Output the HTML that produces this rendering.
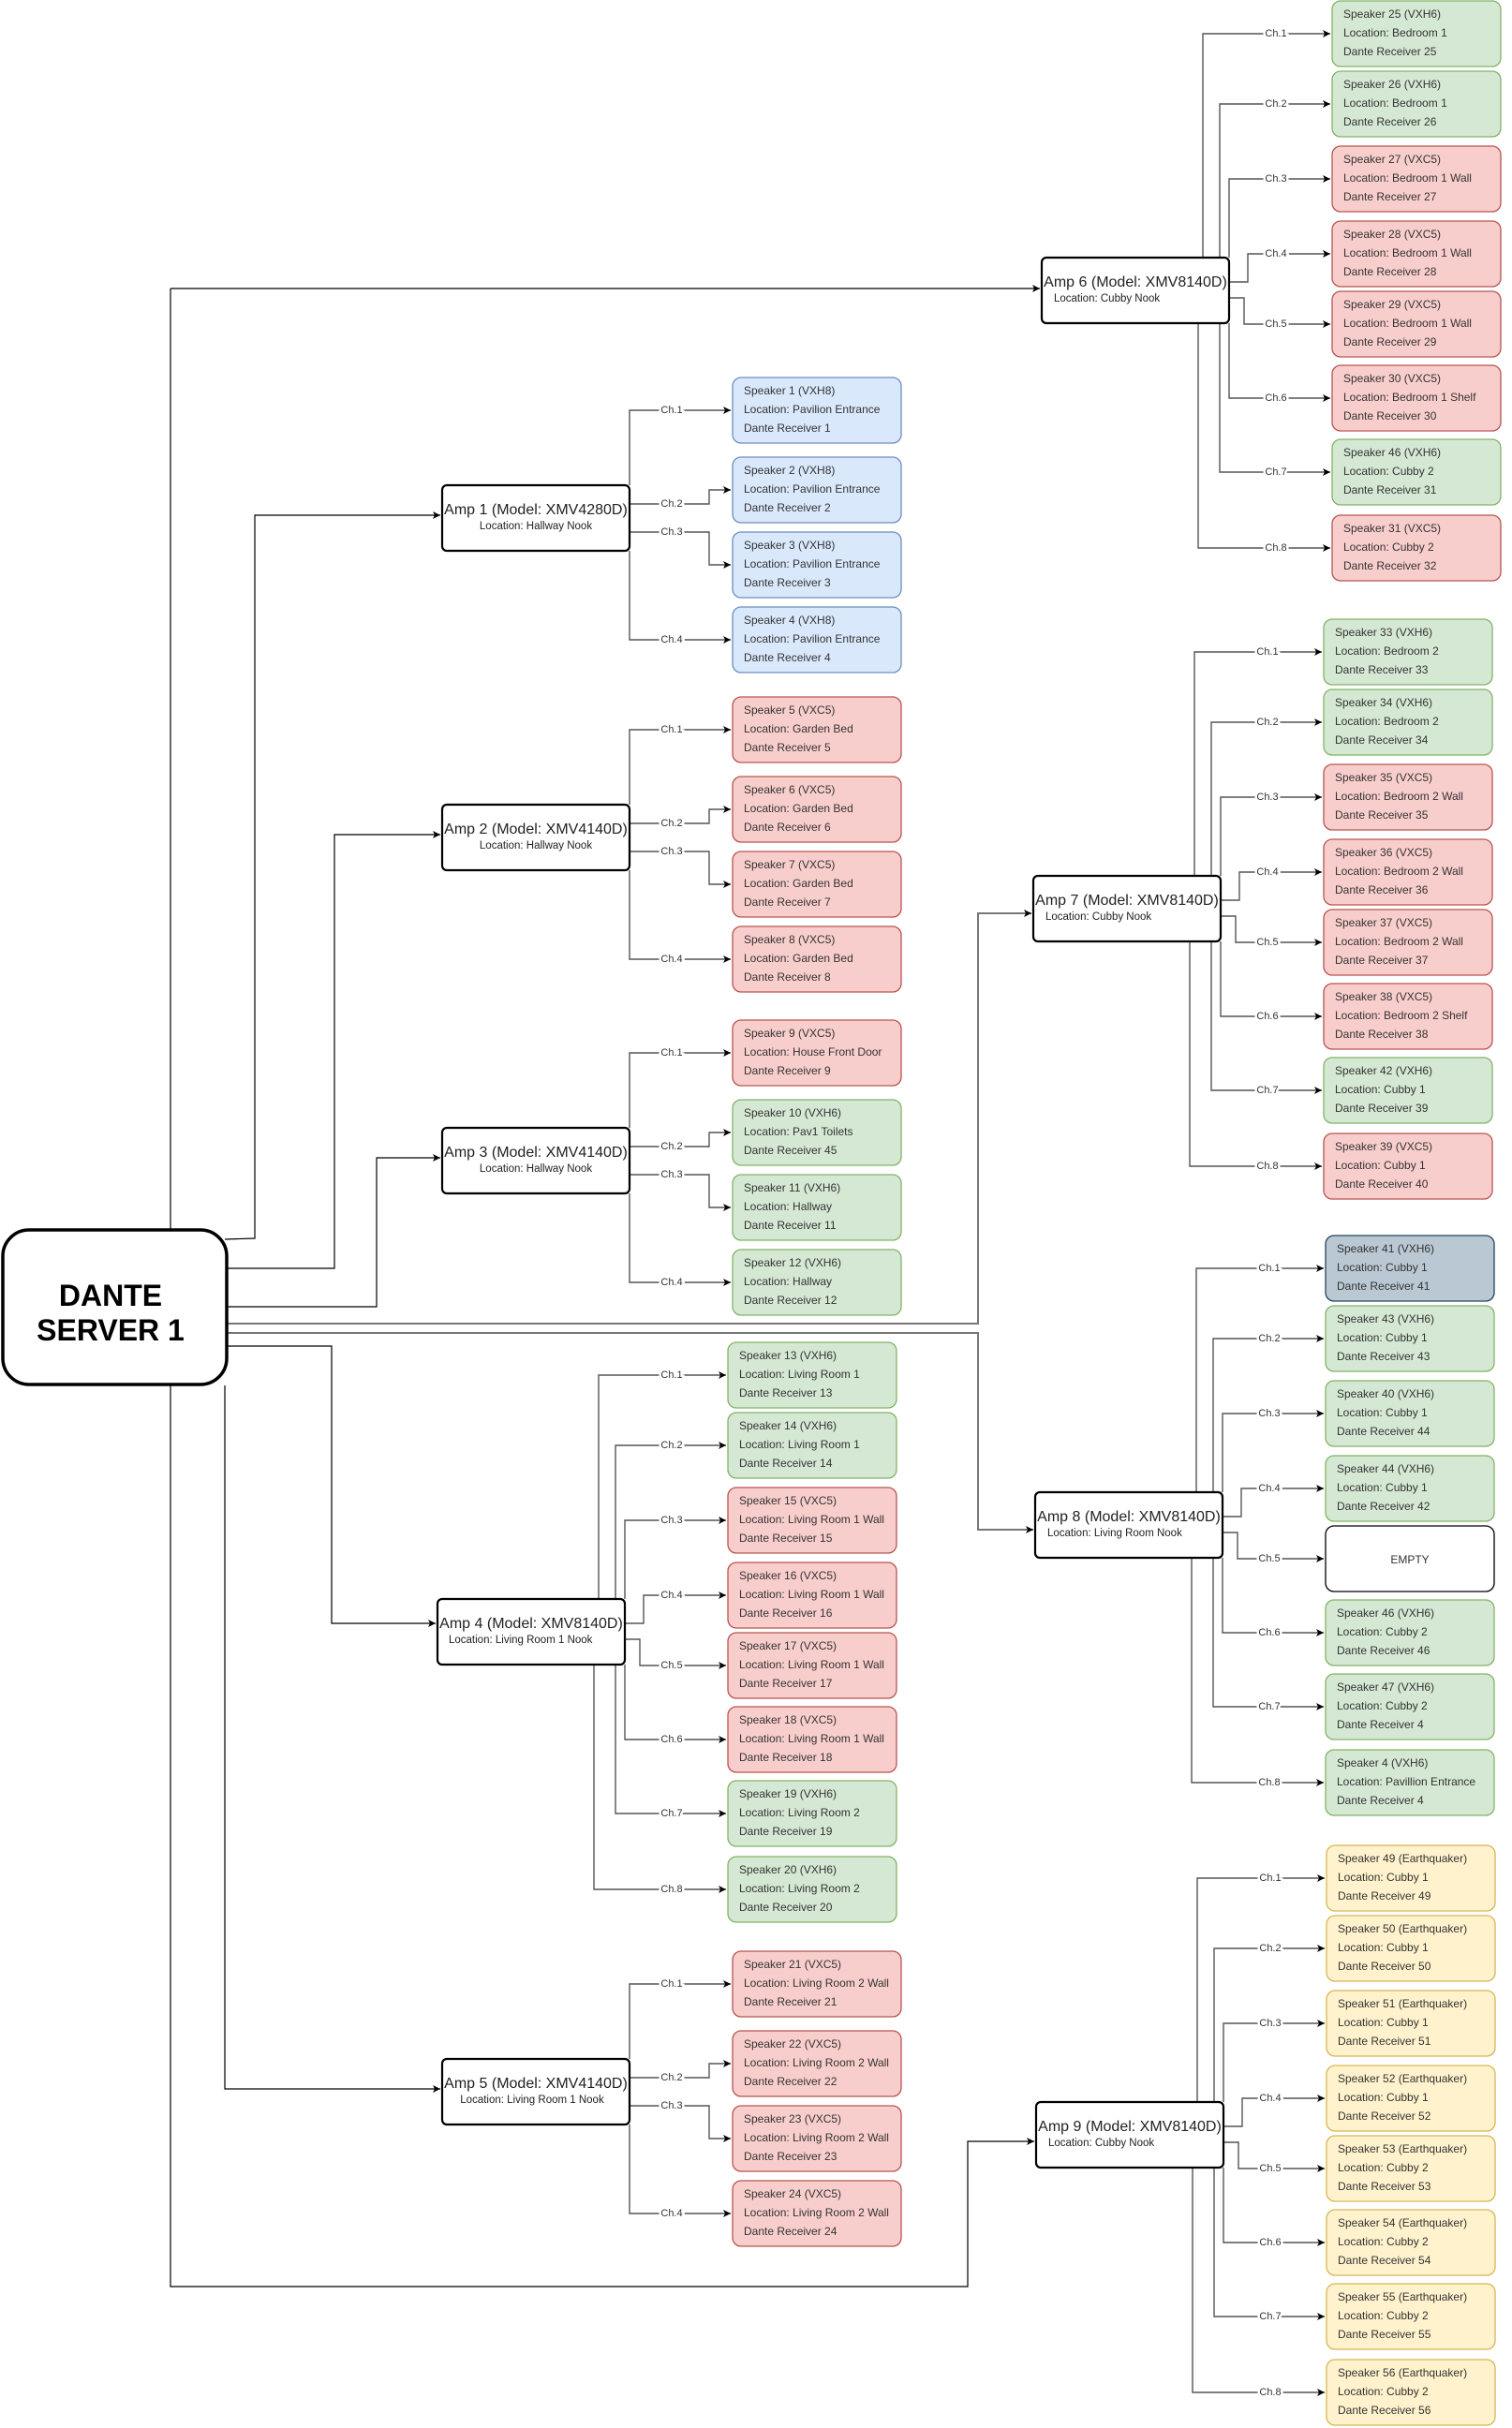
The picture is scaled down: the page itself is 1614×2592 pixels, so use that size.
<!DOCTYPE html>
<html><head><meta charset="utf-8"><style>
html,body{margin:0;padding:0;background:#fff;}
svg{display:block;font-family:"Liberation Sans",Arial,sans-serif;}
.s text{font-size:12px;fill:#333;}
.g rect{fill:#d5e8d4;stroke:#82b366;stroke-width:1.3;}
.r rect{fill:#f8cecc;stroke:#b85450;stroke-width:1.3;}
.b rect{fill:#dae8fc;stroke:#6c8ebf;stroke-width:1.3;}
.y rect{fill:#fff2cc;stroke:#d6b656;stroke-width:1.3;}
.k rect{fill:#bac8d3;stroke:#23445d;stroke-width:1.3;}
.w rect{fill:#fff;stroke:#000;stroke-width:1.3;}
.ch path{fill:none;stroke:#555;stroke-width:1.4;marker-end:url(#ar);}
.sv path{fill:none;stroke:#000;stroke-width:1.2;}
.lb text{font-size:11px;fill:#333;text-anchor:middle;stroke:#fff;stroke-width:5px;paint-order:stroke;dominant-baseline:central;}
.amp rect{fill:#fff;stroke:#000;stroke-width:2.2;}
.amp .t{font-size:16px;fill:#222;text-anchor:middle;}
.amp .l{font-size:11.5px;fill:#222;}
</style></head><body>
<svg width="1614" height="2592" viewBox="0 0 1614 2592" xmlns="http://www.w3.org/2000/svg">
<defs><marker id="ar" markerWidth="10" markerHeight="10" refX="8" refY="5" orient="auto" markerUnits="userSpaceOnUse"><path d="M0,1 L8,5 L0,9 L2,5 Z" fill="#000"/></marker></defs>

<!-- server connections -->
<g class="sv">
<path d="M182 308V2441H1033V2286H1104" style="marker-end:url(#ar)"/>
<path d="M182 308H1110" style="marker-end:url(#ar)"/>
<path d="M240 1323L272 1322V550H470" style="marker-end:url(#ar)"/>
<path d="M243 1354H357V891H470" style="marker-end:url(#ar)"/>
<path d="M243 1395H402V1236H470" style="marker-end:url(#ar)"/>
<path d="M243 1437H354V1733H465" style="marker-end:url(#ar)"/>
<path d="M240 1479V2230H470" style="marker-end:url(#ar)"/>
<path d="M243 1413H1044V975H1101" style="stroke:#777;stroke-width:2;marker-end:url(#ar)"/>
<path d="M243 1423H1044V1633H1103" style="stroke:#777;stroke-width:2;marker-end:url(#ar)"/>
</g>

<!-- server -->
<rect x="3" y="1313" width="239" height="165" rx="28" fill="#fff" stroke="#000" stroke-width="3.5"/>
<text x="118" y="1394" font-size="32" font-weight="bold" text-anchor="middle">DANTE</text>
<text x="118" y="1431" font-size="32" font-weight="bold" text-anchor="middle">SERVER 1</text>

<!-- channel connectors -->
<g class="ch">
<!-- Amp1 -->
<path d="M672 518V438H780"/><path d="M672 538H757V523H780"/><path d="M672 568H757V603H780"/><path d="M672 588V683H780"/>
<!-- Amp2 -->
<path d="M672 859V779H780"/><path d="M672 879H757V864H780"/><path d="M672 909H757V944H780"/><path d="M672 929V1024H780"/>
<!-- Amp3 -->
<path d="M672 1204V1124H780"/><path d="M672 1224H757V1209H780"/><path d="M672 1254H757V1289H780"/><path d="M672 1274V1369H780"/>
<!-- Amp5 -->
<path d="M672 2198V2118H780"/><path d="M672 2218H757V2203H780"/><path d="M672 2248H757V2283H780"/><path d="M672 2268V2363H780"/>
<!-- Amp4 -->
<path d="M639 1707V1468H775"/><path d="M657 1707V1543H775"/><path d="M667 1707V1623H775"/><path d="M667 1733H687V1703H775"/><path d="M667 1750H683V1778H775"/><path d="M667 1777V1857H775"/><path d="M657 1777V1936H775"/><path d="M634 1777V2017H775"/>
<!-- Amp6 -->
<path d="M1284 275V36H1420"/><path d="M1302 275V111H1420"/><path d="M1312 275V191H1420"/><path d="M1312 301H1332V271H1420"/><path d="M1312 318H1328V346H1420"/><path d="M1312 345V425H1420"/><path d="M1302 345V504H1420"/><path d="M1279 345V585H1420"/>
<!-- Amp7 -->
<path d="M1275 935V696H1411"/><path d="M1293 935V771H1411"/><path d="M1303 935V851H1411"/><path d="M1303 961H1323V931H1411"/><path d="M1303 978H1319V1006H1411"/><path d="M1303 1005V1085H1411"/><path d="M1293 1005V1164H1411"/><path d="M1270 1005V1245H1411"/>
<!-- Amp8 -->
<path d="M1277 1593V1354H1413"/><path d="M1295 1593V1429H1413"/><path d="M1305 1593V1509H1413"/><path d="M1305 1619H1325V1589H1413"/><path d="M1305 1636H1321V1664H1413"/><path d="M1305 1663V1743H1413"/><path d="M1295 1663V1822H1413"/><path d="M1272 1663V1903H1413"/>
<!-- Amp9 -->
<path d="M1278 2244V2005H1414"/><path d="M1296 2244V2080H1414"/><path d="M1306 2244V2160H1414"/><path d="M1306 2270H1326V2240H1414"/><path d="M1306 2287H1322V2315H1414"/><path d="M1306 2314V2394H1414"/><path d="M1296 2314V2473H1414"/><path d="M1273 2314V2554H1414"/>
</g>

<!-- channel labels -->
<g class="lb">
<text x="717" y="438">Ch.1</text><text x="717" y="538">Ch.2</text><text x="717" y="568">Ch.3</text><text x="717" y="683">Ch.4</text>
<text x="717" y="779">Ch.1</text><text x="717" y="879">Ch.2</text><text x="717" y="909">Ch.3</text><text x="717" y="1024">Ch.4</text>
<text x="717" y="1124">Ch.1</text><text x="717" y="1224">Ch.2</text><text x="717" y="1254">Ch.3</text><text x="717" y="1369">Ch.4</text>
<text x="717" y="2118">Ch.1</text><text x="717" y="2218">Ch.2</text><text x="717" y="2248">Ch.3</text><text x="717" y="2363">Ch.4</text>
<text x="717" y="1468">Ch.1</text><text x="717" y="1543">Ch.2</text><text x="717" y="1623">Ch.3</text><text x="717" y="1703">Ch.4</text><text x="717" y="1778">Ch.5</text><text x="717" y="1857">Ch.6</text><text x="717" y="1936">Ch.7</text><text x="717" y="2017">Ch.8</text>
<text x="1362" y="36">Ch.1</text><text x="1362" y="111">Ch.2</text><text x="1362" y="191">Ch.3</text><text x="1362" y="271">Ch.4</text><text x="1362" y="346">Ch.5</text><text x="1362" y="425">Ch.6</text><text x="1362" y="504">Ch.7</text><text x="1362" y="585">Ch.8</text>
<text x="1353" y="696">Ch.1</text><text x="1353" y="771">Ch.2</text><text x="1353" y="851">Ch.3</text><text x="1353" y="931">Ch.4</text><text x="1353" y="1006">Ch.5</text><text x="1353" y="1085">Ch.6</text><text x="1353" y="1164">Ch.7</text><text x="1353" y="1245">Ch.8</text>
<text x="1355" y="1354">Ch.1</text><text x="1355" y="1429">Ch.2</text><text x="1355" y="1509">Ch.3</text><text x="1355" y="1589">Ch.4</text><text x="1355" y="1664">Ch.5</text><text x="1355" y="1743">Ch.6</text><text x="1355" y="1822">Ch.7</text><text x="1355" y="1903">Ch.8</text>
<text x="1356" y="2005">Ch.1</text><text x="1356" y="2080">Ch.2</text><text x="1356" y="2160">Ch.3</text><text x="1356" y="2240">Ch.4</text><text x="1356" y="2315">Ch.5</text><text x="1356" y="2394">Ch.6</text><text x="1356" y="2473">Ch.7</text><text x="1356" y="2554">Ch.8</text>
</g>

<!-- amps -->
<g class="amp">
<g transform="translate(472,518)"><rect width="200" height="70" rx="5"/><text class="t" x="100" y="31">Amp 1 (Model: XMV4280D)</text><text class="l" x="100" y="47" text-anchor="middle">Location: Hallway Nook</text></g>
<g transform="translate(472,859)"><rect width="200" height="70" rx="5"/><text class="t" x="100" y="31">Amp 2 (Model: XMV4140D)</text><text class="l" x="100" y="47" text-anchor="middle">Location: Hallway Nook</text></g>
<g transform="translate(472,1204)"><rect width="200" height="70" rx="5"/><text class="t" x="100" y="31">Amp 3 (Model: XMV4140D)</text><text class="l" x="100" y="47" text-anchor="middle">Location: Hallway Nook</text></g>
<g transform="translate(467,1707)"><rect width="200" height="70" rx="5"/><text class="t" x="100" y="31">Amp 4 (Model: XMV8140D)</text><text class="l" x="12" y="47">Location: Living Room 1 Nook</text></g>
<g transform="translate(472,2198)"><rect width="200" height="70" rx="5"/><text class="t" x="100" y="31">Amp 5 (Model: XMV4140D)</text><text class="l" x="96" y="47" text-anchor="middle">Location: Living Room 1 Nook</text></g>
<g transform="translate(1112,275)"><rect width="200" height="70" rx="5"/><text class="t" x="100" y="31">Amp 6 (Model: XMV8140D)</text><text class="l" x="13" y="47">Location: Cubby Nook</text></g>
<g transform="translate(1103,935)"><rect width="200" height="70" rx="5"/><text class="t" x="100" y="31">Amp 7 (Model: XMV8140D)</text><text class="l" x="13" y="47">Location: Cubby Nook</text></g>
<g transform="translate(1105,1593)"><rect width="200" height="70" rx="5"/><text class="t" x="100" y="31">Amp 8 (Model: XMV8140D)</text><text class="l" x="13" y="47">Location: Living Room Nook</text></g>
<g transform="translate(1106,2244)"><rect width="200" height="70" rx="5"/><text class="t" x="100" y="31">Amp 9 (Model: XMV8140D)</text><text class="l" x="13" y="47">Location: Cubby Nook</text></g>
</g>

<!-- speakers -->
<g class="s">
<!-- Amp1 -->
<g class="b" transform="translate(782,403)"><rect width="180" height="70" rx="9"/><text x="12" y="18">Speaker 1 (VXH8)</text><text x="12" y="38">Location: Pavilion Entrance</text><text x="12" y="58">Dante Receiver 1</text></g>
<g class="b" transform="translate(782,488)"><rect width="180" height="70" rx="9"/><text x="12" y="18">Speaker 2 (VXH8)</text><text x="12" y="38">Location: Pavilion Entrance</text><text x="12" y="58">Dante Receiver 2</text></g>
<g class="b" transform="translate(782,568)"><rect width="180" height="70" rx="9"/><text x="12" y="18">Speaker 3 (VXH8)</text><text x="12" y="38">Location: Pavilion Entrance</text><text x="12" y="58">Dante Receiver 3</text></g>
<g class="b" transform="translate(782,648)"><rect width="180" height="70" rx="9"/><text x="12" y="18">Speaker 4 (VXH8)</text><text x="12" y="38">Location: Pavilion Entrance</text><text x="12" y="58">Dante Receiver 4</text></g>
<!-- Amp2 -->
<g class="r" transform="translate(782,744)"><rect width="180" height="70" rx="9"/><text x="12" y="18">Speaker 5 (VXC5)</text><text x="12" y="38">Location: Garden Bed</text><text x="12" y="58">Dante Receiver 5</text></g>
<g class="r" transform="translate(782,829)"><rect width="180" height="70" rx="9"/><text x="12" y="18">Speaker 6 (VXC5)</text><text x="12" y="38">Location: Garden Bed</text><text x="12" y="58">Dante Receiver 6</text></g>
<g class="r" transform="translate(782,909)"><rect width="180" height="70" rx="9"/><text x="12" y="18">Speaker 7 (VXC5)</text><text x="12" y="38">Location: Garden Bed</text><text x="12" y="58">Dante Receiver 7</text></g>
<g class="r" transform="translate(782,989)"><rect width="180" height="70" rx="9"/><text x="12" y="18">Speaker 8 (VXC5)</text><text x="12" y="38">Location: Garden Bed</text><text x="12" y="58">Dante Receiver 8</text></g>
<!-- Amp3 -->
<g class="r" transform="translate(782,1089)"><rect width="180" height="70" rx="9"/><text x="12" y="18">Speaker 9 (VXC5)</text><text x="12" y="38">Location: House Front Door</text><text x="12" y="58">Dante Receiver 9</text></g>
<g class="g" transform="translate(782,1174)"><rect width="180" height="70" rx="9"/><text x="12" y="18">Speaker 10 (VXH6)</text><text x="12" y="38">Location: Pav1 Toilets</text><text x="12" y="58">Dante Receiver 45</text></g>
<g class="g" transform="translate(782,1254)"><rect width="180" height="70" rx="9"/><text x="12" y="18">Speaker 11 (VXH6)</text><text x="12" y="38">Location: Hallway</text><text x="12" y="58">Dante Receiver 11</text></g>
<g class="g" transform="translate(782,1334)"><rect width="180" height="70" rx="9"/><text x="12" y="18">Speaker 12 (VXH6)</text><text x="12" y="38">Location: Hallway</text><text x="12" y="58">Dante Receiver 12</text></g>
<!-- Amp4 -->
<g class="g" transform="translate(777,1433)"><rect width="180" height="70" rx="9"/><text x="12" y="18">Speaker 13 (VXH6)</text><text x="12" y="38">Location: Living Room 1</text><text x="12" y="58">Dante Receiver 13</text></g>
<g class="g" transform="translate(777,1508)"><rect width="180" height="70" rx="9"/><text x="12" y="18">Speaker 14 (VXH6)</text><text x="12" y="38">Location: Living Room 1</text><text x="12" y="58">Dante Receiver 14</text></g>
<g class="r" transform="translate(777,1588)"><rect width="180" height="70" rx="9"/><text x="12" y="18">Speaker 15 (VXC5)</text><text x="12" y="38">Location: Living Room 1 Wall</text><text x="12" y="58">Dante Receiver 15</text></g>
<g class="r" transform="translate(777,1668)"><rect width="180" height="70" rx="9"/><text x="12" y="18">Speaker 16 (VXC5)</text><text x="12" y="38">Location: Living Room 1 Wall</text><text x="12" y="58">Dante Receiver 16</text></g>
<g class="r" transform="translate(777,1743)"><rect width="180" height="70" rx="9"/><text x="12" y="18">Speaker 17 (VXC5)</text><text x="12" y="38">Location: Living Room 1 Wall</text><text x="12" y="58">Dante Receiver 17</text></g>
<g class="r" transform="translate(777,1822)"><rect width="180" height="70" rx="9"/><text x="12" y="18">Speaker 18 (VXC5)</text><text x="12" y="38">Location: Living Room 1 Wall</text><text x="12" y="58">Dante Receiver 18</text></g>
<g class="g" transform="translate(777,1901)"><rect width="180" height="70" rx="9"/><text x="12" y="18">Speaker 19 (VXH6)</text><text x="12" y="38">Location: Living Room 2</text><text x="12" y="58">Dante Receiver 19</text></g>
<g class="g" transform="translate(777,1982)"><rect width="180" height="70" rx="9"/><text x="12" y="18">Speaker 20 (VXH6)</text><text x="12" y="38">Location: Living Room 2</text><text x="12" y="58">Dante Receiver 20</text></g>
<!-- Amp5 -->
<g class="r" transform="translate(782,2083)"><rect width="180" height="70" rx="9"/><text x="12" y="18">Speaker 21 (VXC5)</text><text x="12" y="38">Location: Living Room 2 Wall</text><text x="12" y="58">Dante Receiver 21</text></g>
<g class="r" transform="translate(782,2168)"><rect width="180" height="70" rx="9"/><text x="12" y="18">Speaker 22 (VXC5)</text><text x="12" y="38">Location: Living Room 2 Wall</text><text x="12" y="58">Dante Receiver 22</text></g>
<g class="r" transform="translate(782,2248)"><rect width="180" height="70" rx="9"/><text x="12" y="18">Speaker 23 (VXC5)</text><text x="12" y="38">Location: Living Room 2 Wall</text><text x="12" y="58">Dante Receiver 23</text></g>
<g class="r" transform="translate(782,2328)"><rect width="180" height="70" rx="9"/><text x="12" y="18">Speaker 24 (VXC5)</text><text x="12" y="38">Location: Living Room 2 Wall</text><text x="12" y="58">Dante Receiver 24</text></g>
<!-- Amp6 -->
<g class="g" transform="translate(1422,1)"><rect width="180" height="70" rx="9"/><text x="12" y="18">Speaker 25 (VXH6)</text><text x="12" y="38">Location: Bedroom 1</text><text x="12" y="58">Dante Receiver 25</text></g>
<g class="g" transform="translate(1422,76)"><rect width="180" height="70" rx="9"/><text x="12" y="18">Speaker 26 (VXH6)</text><text x="12" y="38">Location: Bedroom 1</text><text x="12" y="58">Dante Receiver 26</text></g>
<g class="r" transform="translate(1422,156)"><rect width="180" height="70" rx="9"/><text x="12" y="18">Speaker 27 (VXC5)</text><text x="12" y="38">Location: Bedroom 1 Wall</text><text x="12" y="58">Dante Receiver 27</text></g>
<g class="r" transform="translate(1422,236)"><rect width="180" height="70" rx="9"/><text x="12" y="18">Speaker 28 (VXC5)</text><text x="12" y="38">Location: Bedroom 1 Wall</text><text x="12" y="58">Dante Receiver 28</text></g>
<g class="r" transform="translate(1422,311)"><rect width="180" height="70" rx="9"/><text x="12" y="18">Speaker 29 (VXC5)</text><text x="12" y="38">Location: Bedroom 1 Wall</text><text x="12" y="58">Dante Receiver 29</text></g>
<g class="r" transform="translate(1422,390)"><rect width="180" height="70" rx="9"/><text x="12" y="18">Speaker 30 (VXC5)</text><text x="12" y="38">Location: Bedroom 1 Shelf</text><text x="12" y="58">Dante Receiver 30</text></g>
<g class="g" transform="translate(1422,469)"><rect width="180" height="70" rx="9"/><text x="12" y="18">Speaker 46 (VXH6)</text><text x="12" y="38">Location: Cubby 2</text><text x="12" y="58">Dante Receiver 31</text></g>
<g class="r" transform="translate(1422,550)"><rect width="180" height="70" rx="9"/><text x="12" y="18">Speaker 31 (VXC5)</text><text x="12" y="38">Location: Cubby 2</text><text x="12" y="58">Dante Receiver 32</text></g>
<!-- Amp7 -->
<g class="g" transform="translate(1413,661)"><rect width="180" height="70" rx="9"/><text x="12" y="18">Speaker 33 (VXH6)</text><text x="12" y="38">Location: Bedroom 2</text><text x="12" y="58">Dante Receiver 33</text></g>
<g class="g" transform="translate(1413,736)"><rect width="180" height="70" rx="9"/><text x="12" y="18">Speaker 34 (VXH6)</text><text x="12" y="38">Location: Bedroom 2</text><text x="12" y="58">Dante Receiver 34</text></g>
<g class="r" transform="translate(1413,816)"><rect width="180" height="70" rx="9"/><text x="12" y="18">Speaker 35 (VXC5)</text><text x="12" y="38">Location: Bedroom 2 Wall</text><text x="12" y="58">Dante Receiver 35</text></g>
<g class="r" transform="translate(1413,896)"><rect width="180" height="70" rx="9"/><text x="12" y="18">Speaker 36 (VXC5)</text><text x="12" y="38">Location: Bedroom 2 Wall</text><text x="12" y="58">Dante Receiver 36</text></g>
<g class="r" transform="translate(1413,971)"><rect width="180" height="70" rx="9"/><text x="12" y="18">Speaker 37 (VXC5)</text><text x="12" y="38">Location: Bedroom 2 Wall</text><text x="12" y="58">Dante Receiver 37</text></g>
<g class="r" transform="translate(1413,1050)"><rect width="180" height="70" rx="9"/><text x="12" y="18">Speaker 38 (VXC5)</text><text x="12" y="38">Location: Bedroom 2 Shelf</text><text x="12" y="58">Dante Receiver 38</text></g>
<g class="g" transform="translate(1413,1129)"><rect width="180" height="70" rx="9"/><text x="12" y="18">Speaker 42 (VXH6)</text><text x="12" y="38">Location: Cubby 1</text><text x="12" y="58">Dante Receiver 39</text></g>
<g class="r" transform="translate(1413,1210)"><rect width="180" height="70" rx="9"/><text x="12" y="18">Speaker 39 (VXC5)</text><text x="12" y="38">Location: Cubby 1</text><text x="12" y="58">Dante Receiver 40</text></g>
<!-- Amp8 -->
<g class="k" transform="translate(1415,1319)"><rect width="180" height="70" rx="9"/><text x="12" y="18">Speaker 41 (VXH6)</text><text x="12" y="38">Location: Cubby 1</text><text x="12" y="58">Dante Receiver 41</text></g>
<g class="g" transform="translate(1415,1394)"><rect width="180" height="70" rx="9"/><text x="12" y="18">Speaker 43 (VXH6)</text><text x="12" y="38">Location: Cubby 1</text><text x="12" y="58">Dante Receiver 43</text></g>
<g class="g" transform="translate(1415,1474)"><rect width="180" height="70" rx="9"/><text x="12" y="18">Speaker 40 (VXH6)</text><text x="12" y="38">Location: Cubby 1</text><text x="12" y="58">Dante Receiver 44</text></g>
<g class="g" transform="translate(1415,1554)"><rect width="180" height="70" rx="9"/><text x="12" y="18">Speaker 44 (VXH6)</text><text x="12" y="38">Location: Cubby 1</text><text x="12" y="58">Dante Receiver 42</text></g>
<g class="w" transform="translate(1415,1629)"><rect width="180" height="70" rx="9"/><text x="90" y="40" text-anchor="middle">EMPTY</text></g>
<g class="g" transform="translate(1415,1708)"><rect width="180" height="70" rx="9"/><text x="12" y="18">Speaker 46 (VXH6)</text><text x="12" y="38">Location: Cubby 2</text><text x="12" y="58">Dante Receiver 46</text></g>
<g class="g" transform="translate(1415,1787)"><rect width="180" height="70" rx="9"/><text x="12" y="18">Speaker 47 (VXH6)</text><text x="12" y="38">Location: Cubby 2</text><text x="12" y="58">Dante Receiver 4</text></g>
<g class="g" transform="translate(1415,1868)"><rect width="180" height="70" rx="9"/><text x="12" y="18">Speaker 4 (VXH6)</text><text x="12" y="38">Location: Pavillion Entrance</text><text x="12" y="58">Dante Receiver 4</text></g>
<!-- Amp9 -->
<g class="y" transform="translate(1416,1970)"><rect width="180" height="70" rx="9"/><text x="12" y="18">Speaker 49 (Earthquaker)</text><text x="12" y="38">Location: Cubby 1</text><text x="12" y="58">Dante Receiver 49</text></g>
<g class="y" transform="translate(1416,2045)"><rect width="180" height="70" rx="9"/><text x="12" y="18">Speaker 50 (Earthquaker)</text><text x="12" y="38">Location: Cubby 1</text><text x="12" y="58">Dante Receiver 50</text></g>
<g class="y" transform="translate(1416,2125)"><rect width="180" height="70" rx="9"/><text x="12" y="18">Speaker 51 (Earthquaker)</text><text x="12" y="38">Location: Cubby 1</text><text x="12" y="58">Dante Receiver 51</text></g>
<g class="y" transform="translate(1416,2205)"><rect width="180" height="70" rx="9"/><text x="12" y="18">Speaker 52 (Earthquaker)</text><text x="12" y="38">Location: Cubby 1</text><text x="12" y="58">Dante Receiver 52</text></g>
<g class="y" transform="translate(1416,2280)"><rect width="180" height="70" rx="9"/><text x="12" y="18">Speaker 53 (Earthquaker)</text><text x="12" y="38">Location: Cubby 2</text><text x="12" y="58">Dante Receiver 53</text></g>
<g class="y" transform="translate(1416,2359)"><rect width="180" height="70" rx="9"/><text x="12" y="18">Speaker 54 (Earthquaker)</text><text x="12" y="38">Location: Cubby 2</text><text x="12" y="58">Dante Receiver 54</text></g>
<g class="y" transform="translate(1416,2438)"><rect width="180" height="70" rx="9"/><text x="12" y="18">Speaker 55 (Earthquaker)</text><text x="12" y="38">Location: Cubby 2</text><text x="12" y="58">Dante Receiver 55</text></g>
<g class="y" transform="translate(1416,2519)"><rect width="180" height="70" rx="9"/><text x="12" y="18">Speaker 56 (Earthquaker)</text><text x="12" y="38">Location: Cubby 2</text><text x="12" y="58">Dante Receiver 56</text></g>
</g>
</svg>
</body></html>
